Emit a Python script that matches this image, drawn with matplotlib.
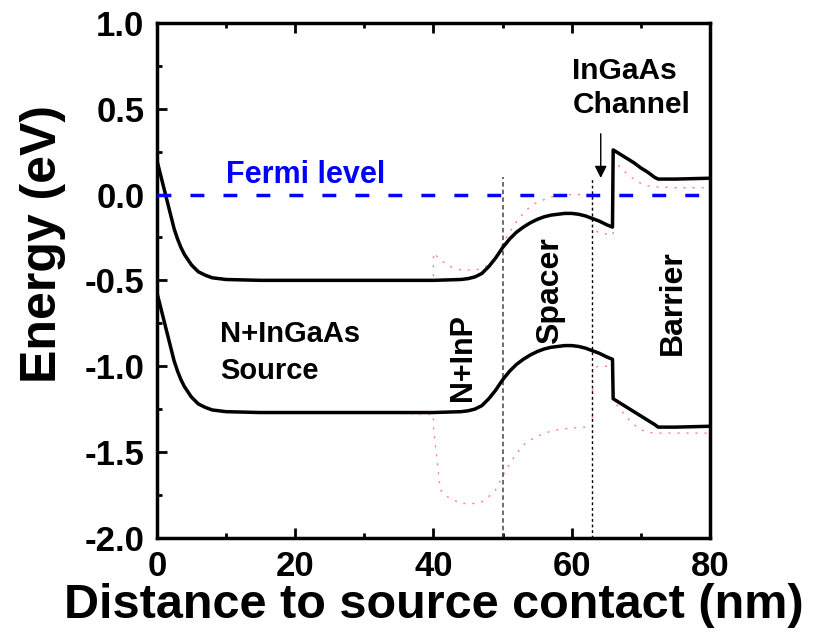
import numpy as np
import matplotlib
matplotlib.use("Agg")
import matplotlib.pyplot as plt
from matplotlib.ticker import MultipleLocator, FormatStrFormatter

plt.rcParams['font.family'] = ['Liberation Sans', 'DejaVu Sans']
plt.rcParams['font.weight'] = 'bold'
plt.rcParams['axes.labelweight'] = 'bold'
plt.rcParams['axes.unicode_minus'] = False

# Band edges (x in nm, energy in eV)
x_cb = [0, 0.5, 1, 1.5, 2, 2.5, 3, 3.5, 4, 5, 6, 7, 8, 10, 15, 20, 30, 40,
        44, 45, 46, 47, 48, 49, 50, 51, 52, 53, 54, 55, 56, 57, 58, 59, 60,
        61, 62, 63, 64, 65, 65.9, 66.0, 67, 68, 69, 70, 71, 72, 72.5, 75, 80]
e_cb = [0.20, 0.12, 0.04, -0.04, -0.12, -0.20, -0.26, -0.31, -0.35, -0.41,
        -0.45, -0.47, -0.485, -0.495, -0.50, -0.50, -0.50, -0.50,
        -0.495, -0.49, -0.48, -0.46, -0.42, -0.37, -0.31, -0.26, -0.22,
        -0.19, -0.165, -0.145, -0.13, -0.12, -0.115, -0.11, -0.11,
        -0.115, -0.125, -0.14, -0.155, -0.175, -0.19, 0.26, 0.235, 0.21,
        0.185, 0.155, 0.13, 0.10, 0.09, 0.09, 0.095]

x_vb = [0, 0.5, 1, 1.5, 2, 2.5, 3, 3.5, 4, 5, 6, 7, 8, 10, 15, 20, 30, 40,
        44, 45, 46, 47, 48, 49, 50, 51, 52, 53, 54, 55, 56, 57, 58, 59, 60,
        61, 62, 63, 64, 65, 65.9, 66.0, 67, 68, 69, 70, 71, 72, 72.5, 75, 80]
e_vb = [-0.57, -0.65, -0.73, -0.81, -0.89, -0.97, -1.03, -1.08, -1.12, -1.18,
        -1.22, -1.24, -1.255, -1.265, -1.27, -1.27, -1.27, -1.27,
        -1.265, -1.26, -1.25, -1.23, -1.19, -1.14, -1.08, -1.03, -0.99,
        -0.96, -0.935, -0.915, -0.90, -0.89, -0.885, -0.88, -0.88,
        -0.885, -0.895, -0.91, -0.925, -0.945, -0.96, -1.19, -1.215, -1.24,
        -1.265, -1.29, -1.315, -1.34, -1.355, -1.355, -1.35]

# second (faint red dotted) simulation
x_cb2 = [0, 1, 2, 3, 4, 6, 8, 10, 20, 30, 40, 40.01, 41, 42, 43, 44, 45, 46,
         47, 48, 49, 50, 51, 52, 53, 54, 55, 56, 57, 58, 60, 62, 63, 63.01,
         64, 65, 66, 66.01, 67, 68, 69, 70, 71, 72, 75, 80]
e_cb2 = [0.20, 0.04, -0.12, -0.26, -0.35, -0.45, -0.485, -0.495, -0.50,
         -0.50, -0.50, -0.34, -0.38, -0.41, -0.43, -0.44, -0.44, -0.44,
         -0.43, -0.41, -0.37, -0.29, -0.22, -0.16, -0.11, -0.07, -0.045,
         -0.03, -0.015, -0.005, 0.0, 0.0, 0.0, -0.21, -0.22, -0.23, -0.235,
         0.20, 0.16, 0.12, 0.09, 0.065, 0.05, 0.045, 0.04, 0.04]

x_vb2 = [0, 1, 2, 3, 4, 6, 8, 10, 20, 30, 40, 40.01, 41, 42, 43, 44, 45, 46,
         47, 48, 49, 50, 51, 52, 53, 54, 55, 56, 58, 60, 62, 63, 63.01,
         64, 65, 66, 66.01, 67, 68, 69, 70, 71, 72, 75, 80]
e_vb2 = [-0.57, -0.73, -0.89, -1.03, -1.12, -1.22, -1.255, -1.265, -1.27,
         -1.27, -1.28, -1.36, -1.72, -1.76, -1.78, -1.80, -1.80, -1.80,
         -1.79, -1.76, -1.72, -1.64, -1.57, -1.51, -1.46, -1.43, -1.41,
         -1.39, -1.37, -1.36, -1.355, -1.355, -1.01, -1.0, -1.0, -1.02,
         -1.20, -1.25, -1.30, -1.34, -1.37, -1.385, -1.39, -1.39, -1.39]

fermi_x = [0, 80]
fermi_e = [0, 0]
boundaries = [50, 63]

fig = plt.figure(figsize=(8.17, 6.35), dpi=100)
ax = fig.add_axes([0.192, 0.153, 0.677, 0.811])

red = '#ff8080'
ax.plot(x_cb2, e_cb2, color=red, lw=1.0, ls=(0, (1.5, 5)), zorder=2)
ax.plot(x_vb2, e_vb2, color=red, lw=1.0, ls=(0, (1.5, 5)), zorder=2)
ax.plot(x_cb, e_cb, color='k', lw=2.5, zorder=3)
ax.plot(x_vb, e_vb, color='k', lw=2.5, zorder=3)
ax.plot(fermi_x, fermi_e, color='#0000ff', lw=2.5, dashes=(4, 5.5), zorder=4)

ax.vlines(boundaries[0], -2.0, 0.1, colors='#444444', lw=1.1, linestyles=(0, (3, 2)))
ax.vlines(boundaries[1], -2.0, 0.1, colors='k', lw=1.0, linestyles=(0, (2, 2)))

ax.annotate('', xy=(64.2, 0.08), xytext=(64.2, 0.37),
            arrowprops=dict(arrowstyle='-|>', color='k', lw=1.0, mutation_scale=18))

ax.text(10.0, 0.07, 'Fermi level', color='#0000ff', fontsize=22, ha='left', va='baseline')
ax.text(9.2, -0.92, 'N+InGaAs\nSource', fontsize=21, ha='left', va='center', linespacing=1.4)
ax.text(60.1, 0.62, 'InGaAs\nChannel', fontsize=21.5, ha='left', va='center', linespacing=1.3)
ax.text(44.3, -0.95, 'N+InP', fontsize=22, rotation=90, ha='center', va='center')
ax.text(56.8, -0.56, 'Spacer', fontsize=23, rotation=90, ha='center', va='center')
ax.text(74.6, -0.63, 'Barrier', fontsize=23, rotation=90, ha='center', va='center')

ax.set_xlim(0, 80)
ax.set_ylim(-2.0, 1.0)
ax.xaxis.set_major_locator(MultipleLocator(20))
ax.xaxis.set_minor_locator(MultipleLocator(10))
ax.yaxis.set_major_locator(MultipleLocator(0.5))
ax.yaxis.set_minor_locator(MultipleLocator(0.25))
ax.yaxis.set_major_formatter(FormatStrFormatter('%.1f'))

ax.tick_params(which='both', direction='in', width=2, labelsize=25, top=True)
ax.tick_params(which='major', length=7, pad=9)
ax.tick_params(which='minor', length=3.5)
for s in ax.spines.values():
    s.set_linewidth(2.5)

ax.set_xlabel('Distance to source contact (nm)', fontsize=35, fontweight='bold', labelpad=0)
ax.set_ylabel('Energy (eV)', fontsize=36, fontweight='bold')
ax.yaxis.set_label_coords(-0.165, 0.57)

fig.savefig('out.png', dpi=100)
